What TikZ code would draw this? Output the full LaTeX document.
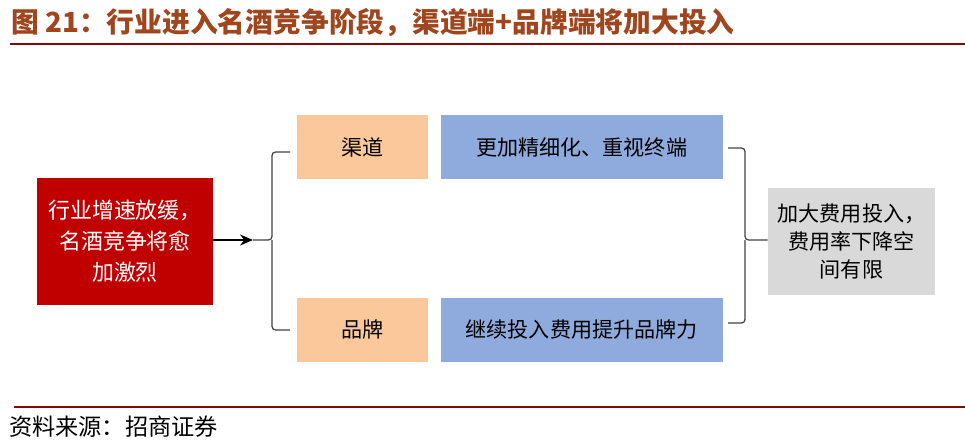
\documentclass[tikz,border=0pt]{standalone}
\usepackage{fontspec}
\setmainfont{Noto Sans CJK SC}
\usetikzlibrary{arrows.meta, positioning}

\definecolor{titlebrown}{RGB}{160,70,30}
\definecolor{rulered}{RGB}{128,10,10}
\definecolor{boxred}{RGB}{192,0,0}
\definecolor{boxorange}{RGB}{250,200,155}
\definecolor{boxblue}{RGB}{143,170,220}
\definecolor{boxgray}{RGB}{217,217,217}

\begin{document}
\begin{tikzpicture}[
  font=\fontsize{12}{16}\selectfont,
  start/.style={rectangle, fill=boxred, text=white, align=center, minimum width=3.52cm, minimum height=2.54cm, font=\fontsize{12.5}{17.6}\selectfont},
  channel/.style={rectangle, fill=boxorange, align=center, minimum width=2.62cm, minimum height=1.28cm},
  action/.style={rectangle, fill=boxblue, align=center, minimum width=5.64cm, minimum height=1.28cm},
  result/.style={rectangle, fill=boxgray, align=center, minimum width=3.34cm, minimum height=2.14cm, font=\fontsize{12}{15.9}\selectfont},
  brace/.style={draw=black!75, line width=0.7pt, rounded corners=2pt},
  arrow/.style={-{Stealth[length=2.6mm, width=2.2mm]}, line width=0.6pt},
  hrule/.style={draw=rulered, line width=1.6pt}
]
\useasboundingbox (0,0) rectangle (19.3,-8.8);

% title and rules
\node[anchor=west, text=titlebrown, font=\fontsize{15.8}{18}\bfseries] (title) at (0.1,-0.45) {图 21：行业进入名酒竞争阶段，渠道端+品牌端将加大投入};
\coordinate (rtl) at (0.2,-0.88);
\coordinate (rtr) at (19.3,-0.88);
\draw[hrule] (rtl) -- (rtr);
\coordinate (rbl) at (0.28,-8.14);
\coordinate (rbr) at (19.3,-8.14);
\draw[hrule] (rbl) -- (rbr);
\node[anchor=west, font=\fontsize{13.2}{15}\selectfont] (source) at (0.06,-8.54) {资料来源：招商证券};

% boxes
\node[start] (slow) at (2.5,-4.83) {行业增速放缓，\\名酒竞争将愈\\加激烈};
\node[channel] (qudao) at (7.25,-2.94) {渠道};
\node[action, right=0.24cm of qudao] (finer) {更加精细化、重视终端};
\node[channel, below=2.36cm of qudao] (pinpai) {品牌};
\node[action, right=0.24cm of pinpai] (invest) {继续投入费用提升品牌力};
\node[result] (cost) at (17.03,-4.83) {加大费用投入，\\费用率下降空\\间有限};

% left brace
\coordinate (lbtop) at (5.8,-3.04);
\coordinate (lbbot) at (5.8,-6.6);
\coordinate (lbmid) at (5.44,-4.8);
\coordinate (lbtip) at (5.06,-4.8);
\draw[brace] (lbtop) -| (lbmid) -- (lbtip);
\draw[brace] (lbbot) -| (lbmid);

% right brace
\coordinate (rbtop) at (14.56,-2.96);
\coordinate (rbbot) at (14.56,-6.46);
\coordinate (rbmid) at (14.9,-4.8);
\draw[brace] (rbtop) -| (rbmid) -- (cost.west |- rbmid);
\draw[brace] (rbbot) -| (rbmid);

\draw[arrow] (slow.east |- lbtip) -- (lbtip);
\end{tikzpicture}
\end{document}
